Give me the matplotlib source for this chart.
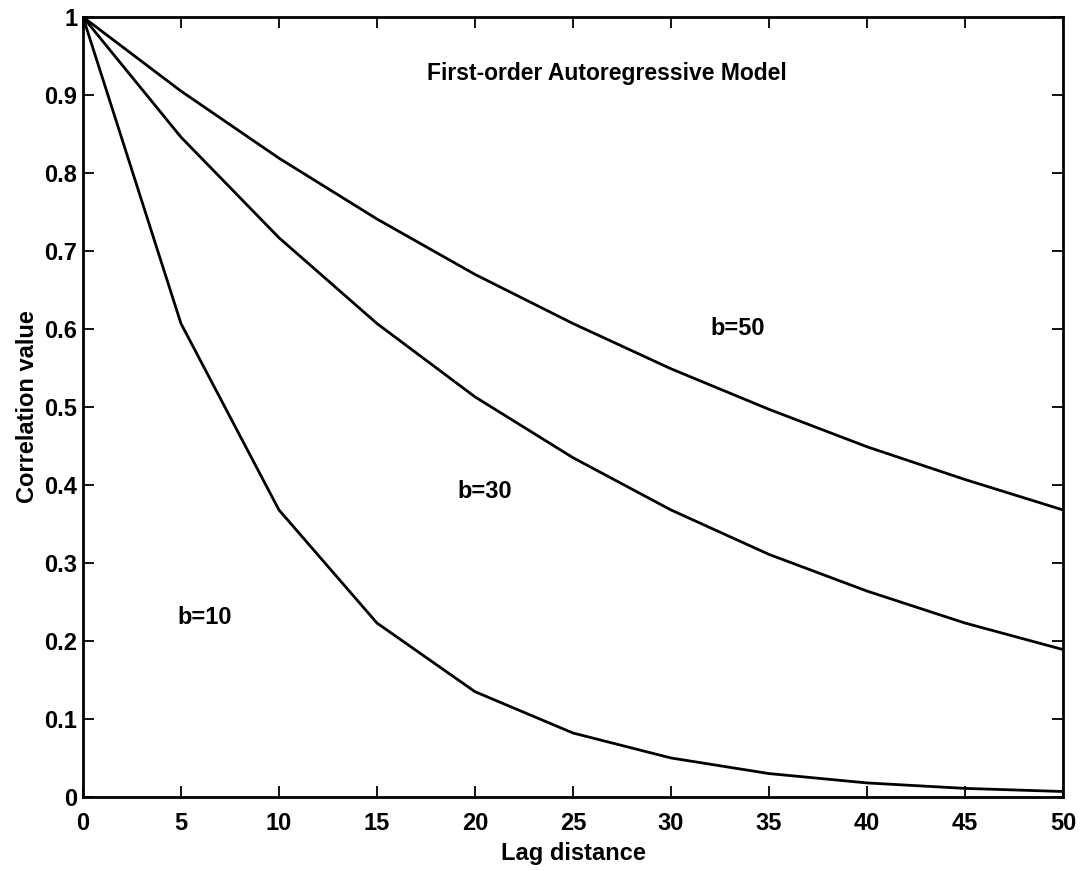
import matplotlib
matplotlib.use('Agg')
import matplotlib.pyplot as plt

plt.rcParams['font.family'] = ['Liberation Sans', 'DejaVu Sans']
plt.rcParams['font.weight'] = 'bold'
plt.rcParams['axes.labelweight'] = 'bold'

lag = [0, 5, 10, 15, 20, 25, 30, 35, 40, 45, 50]
b10 = [1.0, 0.607, 0.368, 0.223, 0.135, 0.082, 0.050, 0.030, 0.018, 0.011, 0.007]
b30 = [1.0, 0.846, 0.717, 0.607, 0.513, 0.435, 0.368, 0.311, 0.264, 0.223, 0.189]
b50 = [1.0, 0.905, 0.819, 0.741, 0.670, 0.607, 0.549, 0.497, 0.449, 0.407, 0.368]

xticks = list(range(0, 51, 5))
yticks = [0, 0.1, 0.2, 0.3, 0.4, 0.5, 0.6, 0.7, 0.8, 0.9, 1]
yticklabels = ['0', '0.1', '0.2', '0.3', '0.4', '0.5', '0.6', '0.7', '0.8', '0.9', '1']

fig = plt.figure(figsize=(10.83, 8.71), dpi=100)
ax = fig.add_axes([0.0766, 0.085, 0.9049, 0.8955])

for y in (b10, b30, b50):
    ax.plot(lag, y, color='black', linewidth=2.0)

ax.set_xlim(0, 50)
ax.set_ylim(0, 1)
ax.set_xticks(xticks)
ax.set_yticks(yticks)
ax.set_yticklabels(yticklabels)

ax.tick_params(axis='both', direction='in', length=8, width=1.3,
               top=True, right=True, labelsize=17)
ax.tick_params(axis='x', pad=11)
ax.tick_params(axis='y', pad=4)
for s in ax.spines.values():
    s.set_linewidth(2.0)

ax.set_xlabel('Lag distance', fontsize=17)
ax.xaxis.set_label_coords(0.5, -0.072)
ax.set_ylabel('Correlation value', fontsize=17)
ax.yaxis.set_label_coords(-0.057, 0.5)
ax.yaxis.label.set_verticalalignment('center')
ax.xaxis.label.set_verticalalignment('center')

ax.text(35.9, 0.928, 'First-order Autoregressive Model', fontsize=16.5,
        ha='right', va='center')
ax.text(33.4, 0.601, 'b=50', fontsize=17, ha='center', va='center')
ax.text(20.5, 0.391, 'b=30', fontsize=17, ha='center', va='center')
ax.text(6.2, 0.23, 'b=10', fontsize=17, ha='center', va='center')

fig.savefig('out.png', dpi=100, facecolor='white')
